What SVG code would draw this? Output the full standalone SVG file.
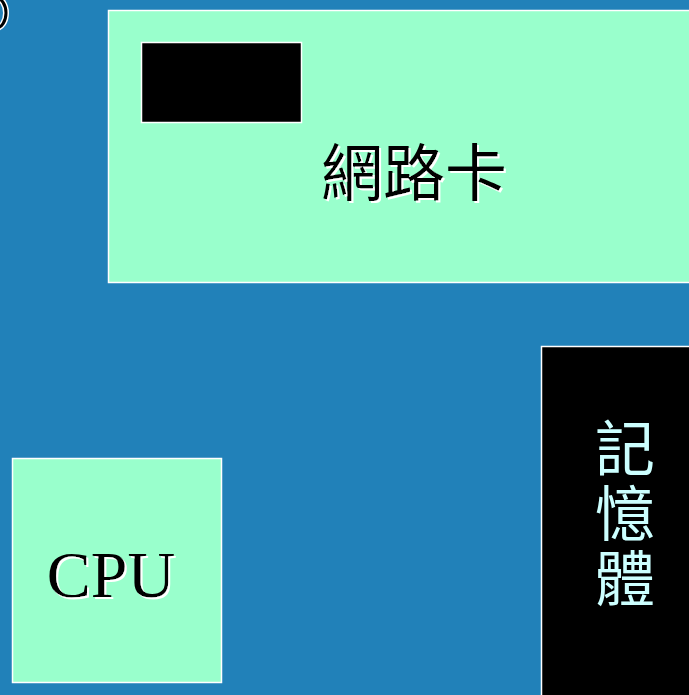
<svg xmlns="http://www.w3.org/2000/svg" width="689" height="695" viewBox="0 0 689 695">
<style>
.box{stroke:#ffffff;stroke-width:1.5}
.green{fill:#99ffcc}
.blk{fill:#000000}
.cjk{font-family:"Noto Sans CJK TC","Noto Sans CJK SC",sans-serif}
.serif{font-family:"Liberation Serif",serif}
.shadow{filter:url(#wshadow)}
</style>
<defs>
<filter id="wshadow" x="-10%" y="-10%" width="120%" height="130%">
<feFlood flood-color="#ffffff"/>
<feComposite in2="SourceAlpha" operator="in"/>
<feOffset dx="2" dy="2" result="sh"/>
<feMerge><feMergeNode in="sh"/><feMergeNode in="SourceGraphic"/></feMerge>
</filter>
</defs>
<rect x="0" y="0" width="689" height="695" fill="#2181b9"/>
<g id="corner">
<ellipse cx="-4" cy="13" rx="10" ry="15" fill="none" stroke="#ffffff" stroke-width="6"/>
<ellipse cx="-4" cy="13" rx="10" ry="15" fill="none" stroke="#000000" stroke-width="3"/>
</g>
<g id="network-card">
<rect class="box green" x="108.5" y="10.5" width="590" height="272"/>
<rect class="box blk" x="141.5" y="42.5" width="160" height="80"/>
<text class="cjk shadow" x="414" y="196" font-size="62" text-anchor="middle" fill="#000000">網路卡</text>
</g>
<g id="memory">
<rect class="box blk" x="541.5" y="346.5" width="160" height="360"/>
<text class="cjk" x="625" y="418" font-size="60" writing-mode="tb" letter-spacing="5" fill="#ccffff">記憶體</text>
</g>
<g id="cpu">
<rect class="box green" x="12.5" y="458.5" width="209" height="224"/>
<text class="serif shadow" x="111" y="597" font-size="66" text-anchor="middle" fill="#000000">CPU</text>
</g>
<g id="connectors"></g>
</svg>
